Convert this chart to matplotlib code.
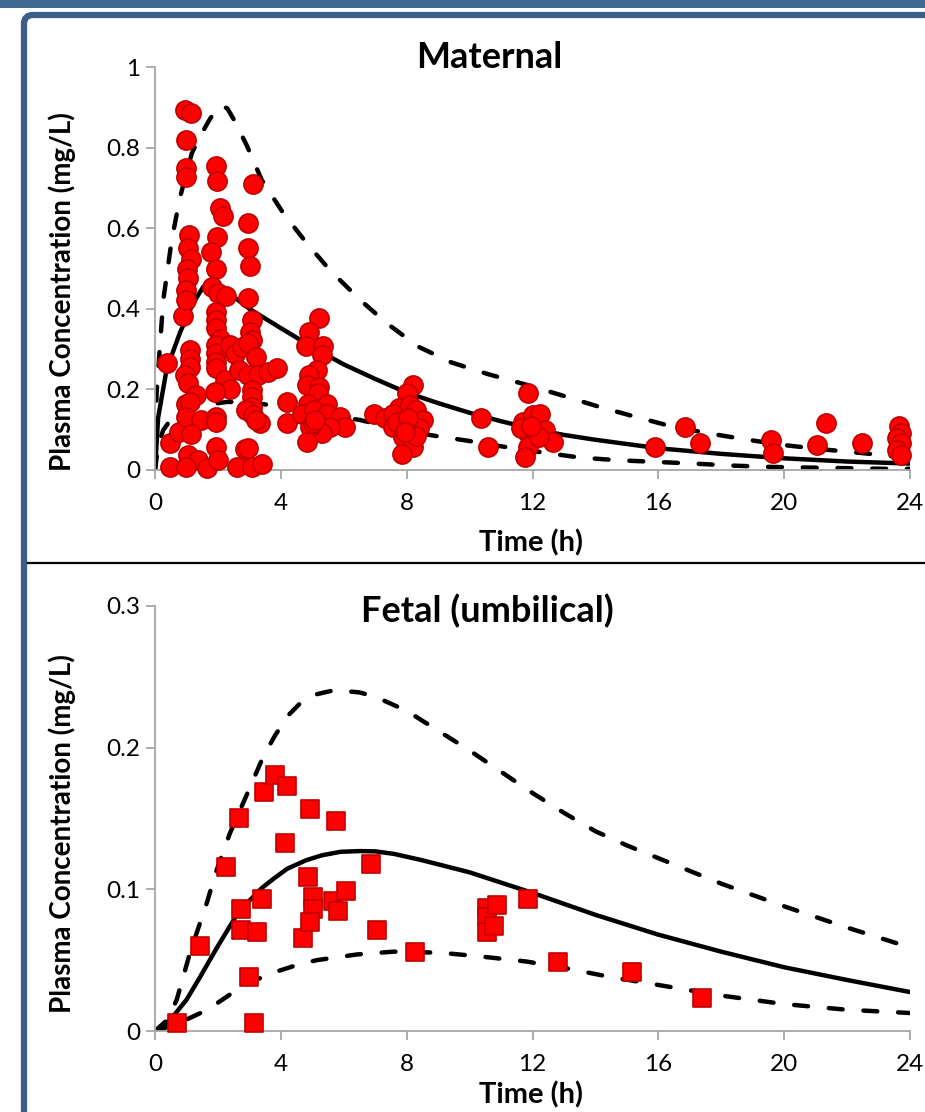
import matplotlib
matplotlib.use("Agg")
import matplotlib.pyplot as plt
from matplotlib.patches import Rectangle, FancyBboxPatch
from matplotlib.lines import Line2D
from matplotlib.transforms import IdentityTransform

plt.rcParams["font.family"] = ["Lato", "DejaVu Sans"]
plt.rcParams["lines.scale_dashes"] = False

# ---- maternal observations (time h, conc mg/L) ----
mat_t = [
    0.38, 0.48, 0.48, 0.77, 0.90, 0.95, 1.13, 1.00, 1.00, 1.00, 1.09, 1.05, 1.13,
    1.03, 1.05, 1.00, 1.00, 1.11, 1.11, 1.11, 0.95, 1.05, 1.30, 0.98, 1.11, 1.00,
    1.45, 1.13, 1.05, 1.38, 1.00, 1.64,
    1.93, 1.97, 2.06, 2.17, 1.97, 1.78, 1.94, 1.80, 2.01, 2.26, 1.94, 1.94, 1.94,
    2.06, 1.94, 1.94, 1.94, 1.94, 2.38, 2.54, 2.75, 2.23, 2.38, 1.91, 1.94, 1.94,
    1.94, 2.01, 2.60, 2.68,
    3.12, 2.97, 2.97, 3.02, 2.97, 3.07, 3.02, 3.07, 2.97, 3.21, 2.97, 3.28, 3.60,
    3.87, 3.07, 3.07, 3.07, 2.89, 3.13, 3.34, 3.20, 2.86, 2.95, 3.07, 3.39, 4.19,
    4.19,
    5.22, 4.90, 4.80, 5.33, 5.30, 5.14, 4.90, 4.82, 5.20, 5.19, 4.87, 5.46, 4.66,
    5.05, 5.46, 5.88, 6.04, 5.56, 5.30, 4.93, 5.03, 4.82, 5.10,
    6.96, 7.31, 8.19, 8.00, 7.77, 7.58, 8.10, 8.30, 8.51, 7.58, 7.90, 8.20, 8.40,
    7.89, 8.21, 7.84, 7.70, 8.05, 8.30, 7.95,
    10.35, 10.60, 11.87, 11.71, 12.03, 12.24, 11.84, 12.05, 12.40, 12.66, 11.87,
    11.76, 11.65, 12.20, 11.95,
    15.90, 16.85, 17.32, 19.57, 19.63, 21.03, 21.33, 22.46, 23.66, 23.72, 23.60,
    23.72, 23.60, 23.72,
]
mat_c = [
    0.265, 0.066, 0.008, 0.095, 0.383, 0.894, 0.886, 0.819, 0.749, 0.727, 0.582,
    0.550, 0.524, 0.500, 0.476, 0.447, 0.422, 0.298, 0.275, 0.256, 0.236, 0.215,
    0.186, 0.165, 0.169, 0.132, 0.125, 0.090, 0.037, 0.024, 0.008, 0.004,
    0.755, 0.718, 0.650, 0.631, 0.578, 0.540, 0.500, 0.455, 0.438, 0.432, 0.393,
    0.372, 0.352, 0.324, 0.310, 0.290, 0.269, 0.252, 0.310, 0.289, 0.306, 0.223,
    0.202, 0.194, 0.132, 0.120, 0.057, 0.024, 0.008, 0.248,
    0.709, 0.612, 0.550, 0.507, 0.426, 0.372, 0.343, 0.322, 0.314, 0.281, 0.236,
    0.236, 0.244, 0.252, 0.198, 0.180, 0.157, 0.149, 0.136, 0.116, 0.124, 0.051,
    0.055, 0.008, 0.016, 0.169, 0.116,
    0.378, 0.343, 0.307, 0.307, 0.285, 0.248, 0.235, 0.210, 0.206, 0.190, 0.165,
    0.165, 0.140, 0.150, 0.140, 0.132, 0.106, 0.107, 0.092, 0.107, 0.116, 0.070,
    0.125,
    0.138, 0.130, 0.211, 0.190, 0.153, 0.140, 0.161, 0.150, 0.124, 0.107, 0.115,
    0.100, 0.105, 0.082, 0.057, 0.039, 0.120, 0.130, 0.085, 0.095,
    0.130, 0.056, 0.190, 0.120, 0.136, 0.140, 0.095, 0.085, 0.099, 0.070, 0.057,
    0.033, 0.105, 0.082, 0.110,
    0.057, 0.106, 0.068, 0.074, 0.041, 0.063, 0.117, 0.068, 0.109, 0.093, 0.080,
    0.066, 0.050, 0.037,
]

# ---- maternal model curves (median, upper, lower) ----
mat_med_t = [0, 0.1, 0.37, 0.79, 1.11, 1.3, 1.54, 1.75, 1.9, 2.17, 2.5, 3.0, 4.0,
             5.0, 6.0, 7.0, 8.0, 9.0, 10.0, 11.0, 12.0, 13.0, 14.0, 16.0, 18.0,
             20.0, 22.0, 24.0]
mat_med_c = [0, 0.13, 0.25, 0.34, 0.397, 0.425, 0.455, 0.463, 0.462, 0.451, 0.43,
             0.40, 0.352, 0.305, 0.262, 0.226, 0.192, 0.166, 0.142, 0.121, 0.102,
             0.087, 0.075, 0.054, 0.040, 0.029, 0.021, 0.016]
mat_hi_t = [0, 0.05, 0.26, 0.53, 0.79, 1.17, 1.45, 1.70, 1.90, 2.10, 2.30, 2.54,
            2.92, 3.39, 4.08, 4.82, 5.56, 6.52, 7.37, 8.37, 9.42, 10.58, 11.74,
            12.9, 14.11, 15.27, 16.43, 17.6, 18.76, 19.97, 21.13, 22.4, 23.5, 24]
mat_hi_c = [0, 0.19, 0.42, 0.57, 0.675, 0.786, 0.83, 0.865, 0.89, 0.905, 0.897,
            0.865, 0.805, 0.720, 0.637, 0.563, 0.496, 0.422, 0.364, 0.306, 0.267,
            0.238, 0.213, 0.186, 0.157, 0.132, 0.108, 0.091, 0.076, 0.062, 0.052,
            0.0425, 0.034, 0.031]
mat_lo_t = [0, 0.1, 0.26, 0.5, 1.0, 1.64, 2.3, 3.0, 3.76, 5.0, 6.52, 7.6, 8.8,
            9.91, 11.07, 12.56, 13.5, 14.68, 15.95, 17.11, 18.33, 19.55, 20.77,
            21.99, 23.15, 24]
mat_lo_c = [0, 0.06, 0.099, 0.125, 0.149, 0.162, 0.169, 0.168, 0.160, 0.143, 0.124,
            0.104, 0.086, 0.073, 0.058, 0.041, 0.031, 0.0243, 0.020, 0.016, 0.011,
            0.0077, 0.006, 0.0045, 0.003, 0.003]

# ---- fetal (umbilical) observations ----
fet_t = [0.71, 1.43, 2.25, 2.67, 2.73, 2.73, 2.99, 3.15, 3.23, 3.39, 3.47, 3.81,
         4.20, 4.12, 4.94, 4.70, 4.86, 5.02, 5.02, 4.94, 5.76, 5.65, 5.83, 6.07,
         6.88, 7.05, 8.28, 10.55, 10.55, 10.86, 10.55, 10.79, 11.85, 12.81, 15.15,
         17.40]
fet_c = [0.0054, 0.060, 0.116, 0.1505, 0.0863, 0.0715, 0.0383, 0.0054, 0.0699,
         0.093, 0.169, 0.1807, 0.173, 0.133, 0.157, 0.066, 0.109, 0.0948, 0.086,
         0.077, 0.148, 0.092, 0.0847, 0.0988, 0.118, 0.0713, 0.0558, 0.0866, 0.0807,
         0.089, 0.070, 0.074, 0.093, 0.049, 0.042, 0.023]

# ---- fetal model curves ----
fet_med_t = [0, 0.3, 0.6, 1.0, 1.43, 2.0, 2.6, 3.0, 3.4, 3.8, 4.2, 4.8, 5.3, 5.9,
             6.5, 7.0, 7.6, 8.5, 10.0, 12.0, 14.0, 16.0, 18.0, 20.0, 22.0, 24.0]
fet_med_c = [0, 0.004, 0.011, 0.022, 0.038, 0.060, 0.082, 0.092, 0.101, 0.108,
             0.1145, 0.1205, 0.124, 0.1265, 0.127, 0.1268, 0.125, 0.1205, 0.112,
             0.0975, 0.082, 0.068, 0.056, 0.045, 0.036, 0.0275]
fet_hi_t = [0, 0.4, 0.69, 1.11, 1.64, 1.96, 2.38, 3.02, 3.44, 3.8, 4.2, 4.6, 5.0,
            5.7, 6.5, 7.0, 8.0, 9.0, 10.0, 11.0, 12.0, 13.0, 14.0, 15.0, 16.0,
            18.0, 20.0, 22.0, 24.0]
fet_hi_c = [0, 0.008, 0.022, 0.055, 0.09, 0.1136, 0.1395, 0.172, 0.1936, 0.208,
            0.222, 0.231, 0.237, 0.2406, 0.239, 0.236, 0.226, 0.212, 0.198, 0.183,
            0.168, 0.154, 0.141, 0.131, 0.122, 0.104, 0.088, 0.073, 0.059]
fet_lo_t = [0, 0.7, 1.43, 2.0, 2.6, 3.2, 3.87, 4.5, 5.14, 6.41, 7.58, 9.06, 10.44,
            11.82, 13.09, 14.5, 16, 18, 20, 22, 24]
fet_lo_c = [0, 0.005, 0.0125, 0.020, 0.029, 0.036, 0.042, 0.0465, 0.050, 0.054,
            0.056, 0.0553, 0.0524, 0.049, 0.0442, 0.038, 0.0325, 0.025, 0.019,
            0.015, 0.0127]

x_ticks = [0, 4, 8, 12, 16, 20, 24]
mat_yticks = [0, 0.2, 0.4, 0.6, 0.8, 1.0]
mat_ylabels = ["0", "0.2", "0.4", "0.6", "0.8", "1"]
fet_yticks = [0, 0.1, 0.2, 0.3]
fet_ylabels = ["0", "0.1", "0.2", "0.3"]

W, H = 925, 1112
GREY = "#a6a6a6"
RED = "#ff0000"
EDGE = "#c00000"


def ax_rect(left, top, right, bottom):
    return [left / W, 1 - bottom / H, (right - left) / W, (bottom - top) / H]


def style_axes(ax, yticks, ylabels, ymax):
    ax.set_xlim(0, 24)
    ax.set_ylim(0, ymax)
    ax.set_xticks(x_ticks)
    ax.set_xticklabels([str(v) for v in x_ticks])
    ax.set_yticks(yticks)
    ax.set_yticklabels(ylabels)
    for side in ("top", "right"):
        ax.spines[side].set_visible(False)
    for side in ("left", "bottom"):
        ax.spines[side].set_color(GREY)
        ax.spines[side].set_linewidth(1.3)
    ax.tick_params(axis="both", direction="out", color=GREY, width=1.3,
                   length=6.5, labelsize=17.5, labelcolor="black")
    ax.tick_params(axis="x", pad=10)
    ax.tick_params(axis="y", pad=4)
    ax.set_facecolor("none")


def draw_curves(ax, med, hi, lo):
    ax.plot(*med, color="black", lw=3.2, solid_capstyle="round",
            solid_joinstyle="round", zorder=2)
    for t, c in (hi, lo):
        ax.plot(t, c, color="black", lw=3.2, dashes=(10, 15),
                dash_capstyle="round", dash_joinstyle="round", zorder=2)


fig = plt.figure(figsize=(W / 100, H / 100), dpi=100)

# page decoration: top bar, rounded blue frame, divider
fig.add_artist(Rectangle((0, H - 8), W, 8, transform=IdentityTransform(),
                         facecolor="#3e6891", edgecolor="none", zorder=0))
fig.add_artist(FancyBboxPatch((24, -200), 1100, H - 15 + 200,
                              boxstyle="round,pad=0,rounding_size=9",
                              transform=IdentityTransform(), facecolor="white",
                              edgecolor="#3a5d89", linewidth=4.5, zorder=0))
fig.add_artist(Line2D([28 / W, 1], [1 - 563 / H, 1 - 563 / H], color="black",
                      lw=1.6, zorder=1))

# maternal panel
ax1 = fig.add_axes(ax_rect(155, 67, 910, 470))
style_axes(ax1, mat_yticks, mat_ylabels, 1.0)
draw_curves(ax1, (mat_med_t, mat_med_c), (mat_hi_t, mat_hi_c), (mat_lo_t, mat_lo_c))
ax1.scatter(mat_t, mat_c, s=190, marker="o", facecolor=RED, edgecolor=EDGE,
            linewidth=1.2, zorder=3, clip_on=False)

# fetal panel
ax2 = fig.add_axes(ax_rect(155, 606, 910, 1031))
style_axes(ax2, fet_yticks, fet_ylabels, 0.3)
draw_curves(ax2, (fet_med_t, fet_med_c), (fet_hi_t, fet_hi_c), (fet_lo_t, fet_lo_c))
ax2.scatter(fet_t, fet_c, s=150, marker="s", facecolor=RED, edgecolor=EDGE,
            linewidth=1.2, zorder=3, clip_on=False)

# texts
fig.text(489 / W, 1 - 57 / H, "Maternal", ha="center", va="center",
         fontsize=26, fontweight="bold")
fig.text(487 / W, 1 - 611 / H, "Fetal (umbilical)", ha="center", va="center",
         fontsize=26, fontweight="bold")
fig.text(531 / W, 1 - 543 / H, "Time (h)", ha="center", va="center",
         fontsize=21, fontweight="bold")
fig.text(531 / W, 1 - 1095 / H, "Time (h)", ha="center", va="center",
         fontsize=21, fontweight="bold")
fig.text(62 / W, 1 - 292 / H, "Plasma Concentration (mg/L)", ha="center",
         va="center", rotation=90, fontsize=20, fontweight="bold")
fig.text(62 / W, 1 - 834 / H, "Plasma Concentration (mg/L)", ha="center",
         va="center", rotation=90, fontsize=20, fontweight="bold")

fig.savefig("out.png", dpi=100)
